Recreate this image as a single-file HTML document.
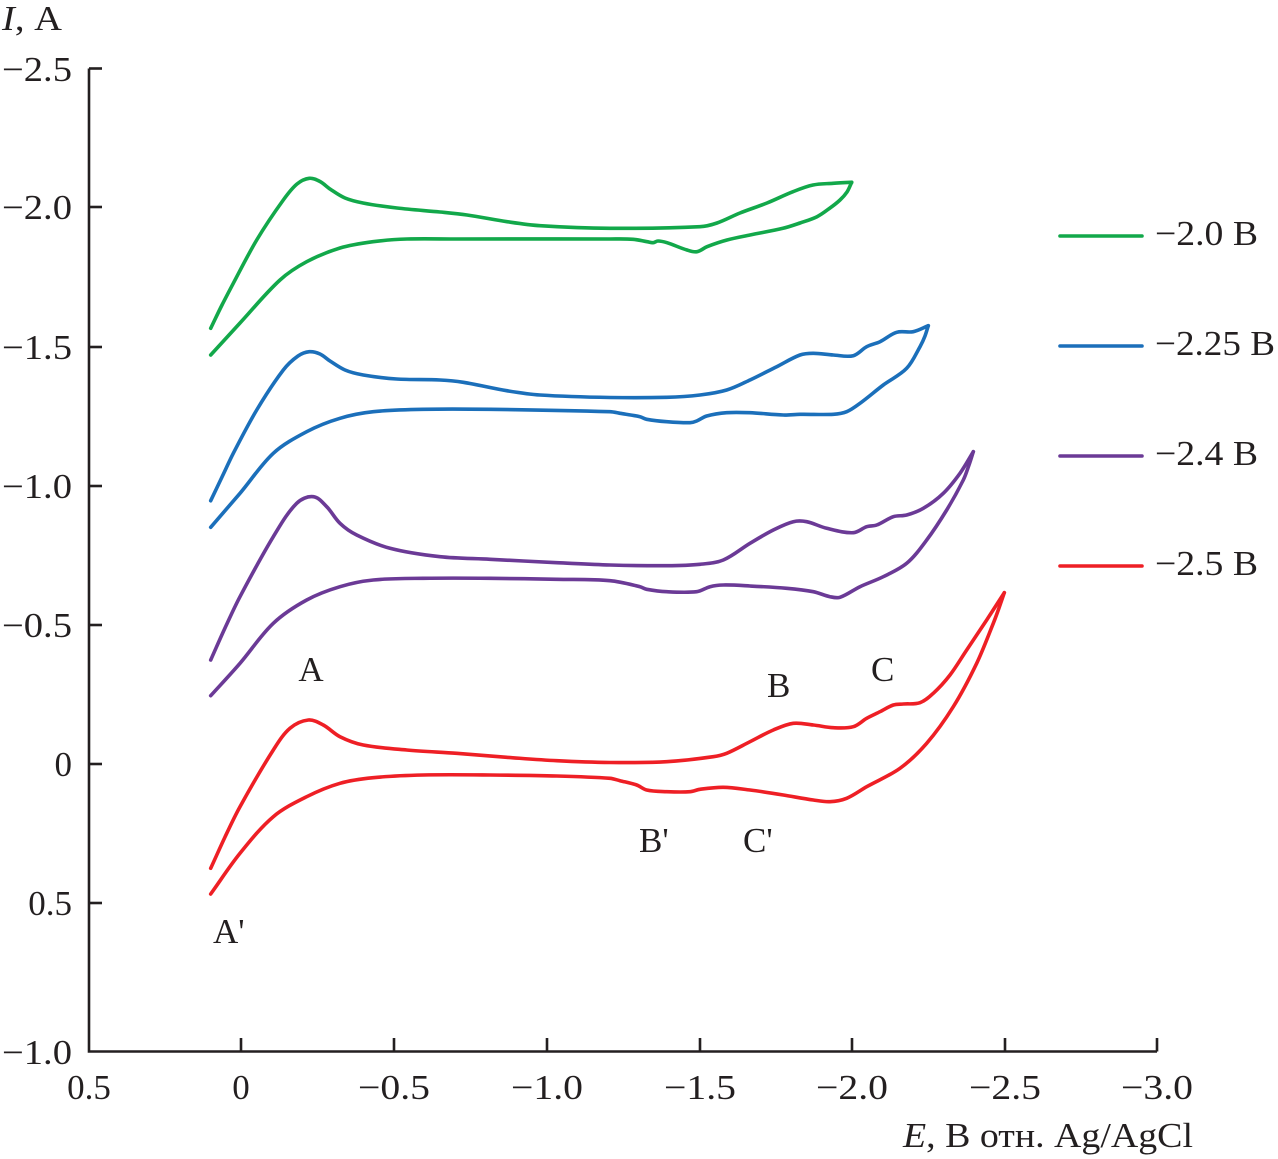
<!DOCTYPE html>
<html>
<head>
<meta charset="utf-8">
<style>
html,body{margin:0;padding:0;background:#fff;}
svg{display:block;}
text{font-family:"Liberation Serif","Times New Roman",serif;fill:#231f20;}
</style>
</head>
<body>
<svg id="chart" width="1278" height="1159" viewBox="0 0 1278 1159" xmlns="http://www.w3.org/2000/svg">
<rect x="0" y="0" width="1278" height="1159" fill="#fff"/>

<!-- axes -->
<g stroke="#231f20" stroke-width="2.6" fill="none">
  <polyline points="89,68.5 89,1051.5 1157,1051.5"/>
  <line x1="89" y1="68.5" x2="102" y2="68.5"/>
  <line x1="89" y1="207" x2="102" y2="207"/>
  <line x1="89" y1="347" x2="102" y2="347"/>
  <line x1="89" y1="486" x2="102" y2="486"/>
  <line x1="89" y1="625" x2="102" y2="625"/>
  <line x1="89" y1="764" x2="102" y2="764"/>
  <line x1="89" y1="903" x2="102" y2="903"/>
  <line x1="241" y1="1051.5" x2="241" y2="1038"/>
  <line x1="394" y1="1051.5" x2="394" y2="1038"/>
  <line x1="547" y1="1051.5" x2="547" y2="1038"/>
  <line x1="700" y1="1051.5" x2="700" y2="1038"/>
  <line x1="852" y1="1051.5" x2="852" y2="1038"/>
  <line x1="1005" y1="1051.5" x2="1005" y2="1038"/>
  <line x1="1157" y1="1051.5" x2="1157" y2="1038"/>
</g>

<!-- y labels -->
<g font-size="35" text-anchor="end">
  <text x="72" y="81" textLength="70" lengthAdjust="spacingAndGlyphs">−2.5</text>
  <text x="72" y="219" textLength="70" lengthAdjust="spacingAndGlyphs">−2.0</text>
  <text x="72" y="359" textLength="70" lengthAdjust="spacingAndGlyphs">−1.5</text>
  <text x="72" y="498" textLength="70" lengthAdjust="spacingAndGlyphs">−1.0</text>
  <text x="72" y="637" textLength="70" lengthAdjust="spacingAndGlyphs">−0.5</text>
  <text x="72" y="776">0</text>
  <text x="72" y="915">0.5</text>
  <text x="72" y="1064" textLength="70" lengthAdjust="spacingAndGlyphs">−1.0</text>
</g>

<!-- x labels -->
<g font-size="35" text-anchor="middle">
  <text x="89" y="1099">0.5</text>
  <text x="241" y="1099">0</text>
  <text x="394" y="1099" textLength="72" lengthAdjust="spacingAndGlyphs">−0.5</text>
  <text x="547" y="1099" textLength="72" lengthAdjust="spacingAndGlyphs">−1.0</text>
  <text x="700" y="1099" textLength="72" lengthAdjust="spacingAndGlyphs">−1.5</text>
  <text x="852" y="1099" textLength="72" lengthAdjust="spacingAndGlyphs">−2.0</text>
  <text x="1005" y="1099" textLength="72" lengthAdjust="spacingAndGlyphs">−2.5</text>
  <text x="1157" y="1099" textLength="72" lengthAdjust="spacingAndGlyphs">−3.0</text>
</g>

<!-- axis titles -->
<text x="2" y="30" font-size="35" textLength="60" lengthAdjust="spacingAndGlyphs"><tspan font-style="italic">I</tspan>, А</text>
<text x="903" y="1147" font-size="35" textLength="290" lengthAdjust="spacingAndGlyphs"><tspan font-style="italic">E</tspan>, В отн. Ag/AgCl</text>

<!-- curves -->
<g id="curves" fill="none" stroke-width="3.6" stroke-linejoin="round" stroke-linecap="round">
  <polyline class="c" stroke="#12a84a" points="210.7,328.3 222,305 233.3,283.3 256.7,240 283.3,200 297,184 309.3,178.3 320,181.5 330,189 345,198 363,203 397,208 440,212 467,215 507,221.7 540,225.7 610,228.3 700,226.7 717,223 740,213 767,203 793,191.7 813,185 833,183.3 851.7,182.3"/>
  <polyline class="c" stroke="#12a84a" points="851.7,182.3 847,192 840,200 830,208 817,216.7 800,223 783,228.3 750,235 727,240 707,246.7 697,251.7 687,250 667,242.7 658,241 653,242.7 647,241.7 633,239.3 610,239 457,239 407,239 373,241.7 340,248 306.7,261.7 280,280 240,323 210.7,355"/>

  <polyline class="c" stroke="#1b6fba" points="210.7,500.7 222,477 233.3,453.3 256.7,410 283.3,370 298,356 309.3,351.7 320,354 330,361 345,370 363.3,375 396.7,379 440,380 463.3,382.3 506.7,390.7 540,395 610,397.5 666.7,397.3 700,395 726.7,390 750,380 776.7,366.7 800,355 813.3,353.3 833.3,355 853.3,355.7 866.7,346.7 880,341.7 896.7,332.3 913.3,331.7 928.3,325.7"/>
  <polyline class="c" stroke="#1b6fba" points="928.3,325.7 925,336 920,346.7 906.7,368.3 883.3,385 860,403.3 846.7,411.7 833.3,414.3 800,414.3 783.3,415 750,412.7 726.7,412.7 706.7,416 696.7,421 690,422.7 666.7,421.7 646.7,419.3 640,416.7 620,413.3 610,411.7 490,409.3 423.3,409.3 373.3,411.7 340,418.3 306.7,431.7 273.3,453.3 240,493.3 210.7,527.3"/>

  <polyline class="c" stroke="#6b3a96" points="210.7,660 225,628 240,596.7 273.3,536.7 296.7,503.3 313.3,496.7 326.7,506.7 340,523.3 356.7,535 390,548.3 440,556.7 490,559.3 556.7,562.7 610,565 666.7,565.7 700,564.3 723.3,560 750,543.3 773.3,530 793.3,521.7 806.7,521.7 826.7,528.3 853.3,532.7 866.7,526.7 876.7,525 893.3,516.7 906.7,515 923.3,508.3 943.3,493.3 960,473.3 973.3,451.7"/>
  <polyline class="c" stroke="#6b3a96" points="973.3,451.7 969,465 963.3,480 946.7,510 926.7,540 906.7,563.3 883.3,576.7 860,586.7 840,597.3 830,596.7 813.3,591.7 786.7,588.3 750,586 723.3,585 710,586.7 696.7,591.7 666.7,591.7 646.7,589.3 640,586.7 610,580.7 556.7,579.3 490,578.3 423.3,578.3 373.3,580 340,586.7 306.7,600 273.3,623.3 240,663.3 210.7,695.7"/>

  <polyline class="c" stroke="#ee1f25" points="210.7,868.3 225,837 240,806.7 273.3,750 290,728.3 308.3,720 323.3,725 340,736.7 363.3,745 406.7,750 456.7,753.3 506.7,757.3 556.7,760.7 610,762.5 666.7,761.7 713.3,756.7 726.7,753.3 750,741.7 773.3,730 793.3,723.3 813.3,725 833.3,727.7 853.3,726.7 866.7,718.3 880,711.7 893.3,705 903.3,704 920,702.7 933.3,693.3 950,675 966.7,650 986.7,620 1004.3,592.7"/>
  <polyline class="c" stroke="#ee1f25" points="1004.3,592.7 999,608 993.3,623.3 976.7,663.3 953.3,706.7 926.7,743.3 900,768.3 866.7,786.7 846.7,798.3 830,801.7 813.3,800 783.3,795 750,790 723.3,787.3 700,789.3 690,791.7 666.7,791.7 646.7,790 636.7,785 620,780.7 610,778.3 556.7,776 490,775 423.3,775 373.3,777.7 340,783.3 306.7,796.7 273.3,816.7 240,853.3 210.7,894"/>
</g>

<!-- annotations -->
<g font-size="35">
  <text x="311" y="681" text-anchor="middle">A</text>
  <text x="213" y="943">A'</text>
  <text x="767" y="697">B</text>
  <text x="871" y="681">C</text>
  <text x="639" y="852">B'</text>
  <text x="743" y="852">C'</text>
</g>

<!-- legend -->
<g stroke-width="3.6" stroke-linecap="round">
  <line x1="1060" y1="236" x2="1142" y2="236" stroke="#12a84a"/>
  <line x1="1060" y1="346" x2="1142" y2="346" stroke="#1b6fba"/>
  <line x1="1060" y1="456" x2="1142" y2="456" stroke="#6b3a96"/>
  <line x1="1060" y1="566" x2="1142" y2="566" stroke="#ee1f25"/>
</g>
<g font-size="35">
  <text x="1155" y="245" textLength="103" lengthAdjust="spacingAndGlyphs">−2.0 В</text>
  <text x="1155" y="355" textLength="120" lengthAdjust="spacingAndGlyphs">−2.25 В</text>
  <text x="1155" y="465" textLength="103" lengthAdjust="spacingAndGlyphs">−2.4 В</text>
  <text x="1155" y="575" textLength="103" lengthAdjust="spacingAndGlyphs">−2.5 В</text>
</g>
</svg>
<script>
(function(){
  var NS="http://www.w3.org/2000/svg";
  var pls=document.querySelectorAll('polyline.c');
  function dir(a,b){var dx=b[0]-a[0],dy=b[1]-a[1],l=Math.sqrt(dx*dx+dy*dy)||1;return [dx/l,dy/l];}
  for(var k=0;k<pls.length;k++){
    var pl=pls[k];
    var n=pl.getAttribute('points').trim().split(/[\s,]+/).map(Number);
    var p=[];for(var i=0;i<n.length;i+=2)p.push([n[i],n[i+1]]);
    var tan=[];
    for(var i=0;i<p.length;i++){
      var a=p[i-1]||p[i], b=p[i+1]||p[i];
      tan.push(dir(a,b));
    }
    var d='M'+p[0][0].toFixed(1)+','+p[0][1].toFixed(1);
    for(var i=0;i<p.length-1;i++){
      var p1=p[i],p2=p[i+1];
      var dx=p2[0]-p1[0],dy=p2[1]-p1[1],L=Math.sqrt(dx*dx+dy*dy)/3;
      var c1=[p1[0]+tan[i][0]*L,p1[1]+tan[i][1]*L];
      var c2=[p2[0]-tan[i+1][0]*L,p2[1]-tan[i+1][1]*L];
      d+=' C'+c1[0].toFixed(1)+','+c1[1].toFixed(1)+' '+c2[0].toFixed(1)+','+c2[1].toFixed(1)+' '+p2[0].toFixed(1)+','+p2[1].toFixed(1);
    }
    var path=document.createElementNS(NS,'path');
    path.setAttribute('d',d);
    path.setAttribute('stroke',pl.getAttribute('stroke'));
    pl.parentNode.replaceChild(path,pl);
  }
})();
</script>
</body>
</html>
